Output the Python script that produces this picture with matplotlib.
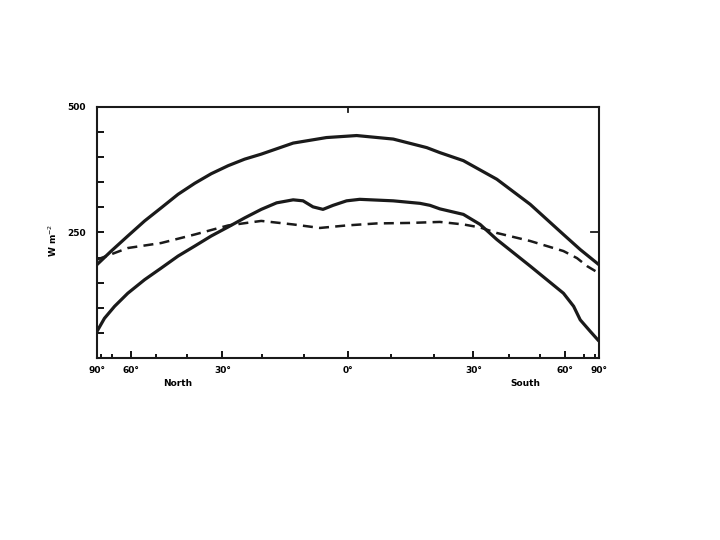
import numpy as np
import matplotlib
matplotlib.use('Agg')
import matplotlib.pyplot as plt

# latitude in degrees, north positive (drawn on a sin(latitude) axis)
lat_upper = [90, 70.6, 61.3, 54.1, 48.1, 42.6, 37.6, 33.0, 28.5, 24.3, 20.2, 12.6, 4.9,
             -2.0, -10.4, -18.3, -21.5, -27.4, -36.4, -46.6, -59.2, -67.8, -90]
flux_upper = [186, 213, 243, 273, 299, 326, 348, 367, 383, 396, 406, 428, 439,
              443, 436, 419, 409, 393, 356, 306, 246, 216, 186]

lat_lower = [90, 76.0, 68.4, 61.3, 54.1, 48.1, 42.6, 37.6, 33.0, 28.5, 24.3, 20.2, 16.5,
             12.6, 10.3, 8.0, 5.7, 3.4, 0.3, -2.7, -10.4, -16.7, -19.1, -21.5, -27.4,
             -31.8, -36.4, -46.6, -59.2, -64.1, -67.8, -75.0, -90]
flux_lower = [53, 79, 103, 129, 156, 179, 203, 223, 243, 261, 279, 296, 309,
              315, 313, 301, 296, 304, 313, 316, 313, 308, 304, 297, 286,
              266, 236, 183, 129, 103, 76, 53, 34]

lat_dash = [90, 61.3, 48.1, 37.6, 28.5, 20.2, 12.6, 6.4, 0.3, -6.6, -14.3, -21.5, -27.4,
            -31.8, -36.4, -46.6, -59.2, -65.9, -72.4, -90]
flux_dash = [196, 219, 229, 246, 264, 273, 266, 259, 264, 268, 269, 271, 266,
             260, 249, 233, 213, 199, 183, 169]

major_lats = [90, 60, 30, 0, -30, -60, -90]
major_labels = ['90°', '60°', '30°', '0°', '30°', '60°', '90°']
minor_lats = [80, 70, 50, 40, 20, 10, -10, -20, -40, -50, -70, -80]


def fwd(x):
    return np.sin(np.radians(x))


def inv(x):
    return np.degrees(np.arcsin(np.clip(x, -1, 1)))


fig = plt.figure(figsize=(7.2, 5.4), dpi=100)
ax = fig.add_axes([0.1347, 0.337, 0.697, 0.465])
ax.set_xscale('function', functions=(fwd, inv))

ax.plot(lat_upper, flux_upper, color='#1a1a1a', lw=2.3, solid_capstyle='round', solid_joinstyle='round')
ax.plot(lat_lower, flux_lower, color='#1a1a1a', lw=2.3, solid_capstyle='round', solid_joinstyle='round')
ax.plot(lat_dash, flux_dash, color='#1a1a1a', lw=1.8, dashes=(4, 2.5))

ax.set_xlim(90, -90)
ax.set_ylim(0, 500)

for s in ax.spines.values():
    s.set_linewidth(1.5)
    s.set_color('#1a1a1a')

ax.set_xticks(major_lats)
ax.set_xticklabels(major_labels, fontsize=6.5, fontweight='bold')
ax.set_xticks(minor_lats, minor=True)
ax.tick_params(axis='x', which='major', direction='in', length=5, width=1.3, pad=6)
ax.tick_params(axis='x', which='minor', direction='in', length=3, width=1.3)

ax.set_yticks(np.arange(0, 501, 50))
ax.set_yticklabels(['500' if v == 500 else '250' if v == 250 else '' for v in range(0, 501, 50)],
                   fontsize=6.5, fontweight='bold')
ax.tick_params(axis='y', direction='in', length=5, width=1.3, pad=8)

# single tick at the top (0°) and right (250)
ax.plot([0, 0], [500, 490], color='#1a1a1a', lw=1.3, clip_on=False)
ax.plot([1, 0.985], [0.5, 0.5], color='#1a1a1a', lw=1.3, transform=ax.transAxes, clip_on=False)

ax.set_ylabel(r'W m$^{-2}$', fontsize=6.5, fontweight='bold')
ax.yaxis.set_label_coords(-0.075, 0.47)

ax.text(0.161, -0.1, 'North', transform=ax.transAxes, fontsize=6.5, fontweight='bold',
        ha='center', va='center')
ax.text(0.853, -0.1, 'South', transform=ax.transAxes, fontsize=6.5, fontweight='bold',
        ha='center', va='center')

fig.savefig('out.png', dpi=100)
